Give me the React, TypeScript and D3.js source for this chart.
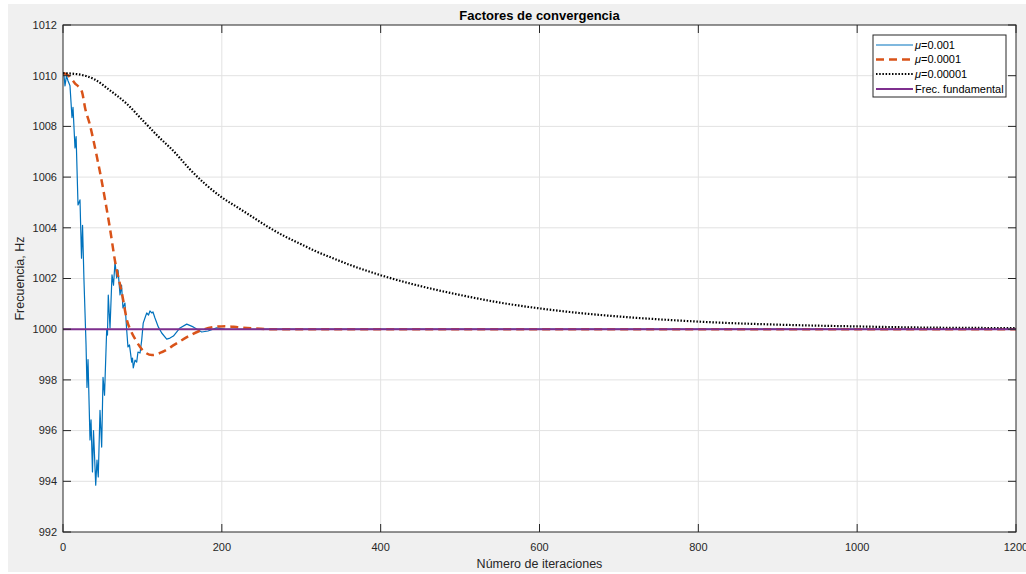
import React from "react";
import * as d3 from "d3";

const xTicks = [0, 200, 400, 600, 800, 1000, 1200];
const yTicks = [992, 994, 996, 998, 1000, 1002, 1004, 1006, 1008, 1010, 1012];

const blueIter = [0, 1.3, 2.5, 4.4, 6.3, 8.8, 11.3, 12.6, 15.1, 16.5, 18.9, 21.4, 23.3, 24.6, 26.4, 29, 30.2, 31.5, 34, 35.3, 37.1, 38.4, 41.2, 42.8, 44.4, 46.6, 48.7, 50.4, 52.3, 55, 56, 57, 59.2, 61.7, 63.6, 65.5, 67.6, 69.3, 71.8, 73.7, 75.5, 78, 80.2, 81.8, 83.7, 86.5, 87.5, 88.5, 90.7, 92.8, 94.4, 97, 99.1, 101, 103.2, 105.4, 107.7, 109.5, 111.7, 113.3, 115.8, 120, 124.3, 130.6, 134.7, 139, 147.3, 155.8, 164, 174.6, 182.6, 193.5, 204, 220, 250, 300, 400, 600, 800, 1000, 1200];
const blueVal = [1010.1, 1010.0, 1009.6, 1010.0, 1009.8, 1009.6, 1008.35, 1008.75, 1007.15, 1007.6, 1004.9, 1005.1, 1002.8, 1004.1, 1001.94, 999.4, 997.7, 998.8, 995.63, 996.42, 994.37, 996.0, 993.85, 994.84, 994.17, 996.8, 995.35, 998.1, 997.4, 999.97, 999.77, 1001.35, 1000.05, 1002.14, 1001.74, 1002.65, 1002.02, 1002.33, 1001.35, 1001.74, 1000.84, 1001.03, 999.97, 999.3, 999.38, 998.7, 998.86, 998.47, 998.78, 998.7, 999.1, 999.06, 999.57, 1000.24, 1000.44, 1000.64, 1000.56, 1000.72, 1000.64, 1000.68, 1000.44, 1000.09, 999.85, 999.61, 999.65, 999.73, 1000.05, 1000.2, 1000.09, 999.89, 999.93, 1000.05, 1000.0, 999.99, 1000.0, 1000.0, 1000.0, 1000.0, 1000.0, 1000.0, 1000.0];

const orangeIter = [0, 5, 10, 15, 20, 24, 28, 34, 38, 43, 49, 53, 59, 66, 74, 81, 86, 91, 101, 112, 125, 141, 158, 175, 191, 205, 220, 240, 260, 300, 400, 600, 800, 1000, 1200];
const orangeVal = [1010.1, 1010.05, 1009.9, 1009.7, 1009.55, 1009.35, 1008.7, 1008.05, 1007.5, 1006.75, 1005.8, 1005.1, 1004.0, 1002.6, 1001.45, 1000.3, 999.9, 999.6, 999.15, 998.98, 999.1, 999.4, 999.72, 999.97, 1000.09, 1000.12, 1000.08, 1000.03, 1000.0, 1000.0, 1000.0, 1000.0, 1000.0, 1000.0, 1000.0];

const blackIter = [0, 20, 40, 60, 80, 100, 120, 140, 160, 180, 200, 220, 240, 260, 280, 300, 320, 340, 360, 380, 400, 450, 500, 550, 600, 650, 700, 750, 800, 850, 900, 950, 1000, 1050, 1100, 1150, 1200];
const blackVal = [1010.1, 1010.05, 1009.85, 1009.4, 1008.9, 1008.25, 1007.6, 1007.0, 1006.3, 1005.7, 1005.2, 1004.8, 1004.4, 1004.0, 1003.65, 1003.35, 1003.05, 1002.8, 1002.55, 1002.33, 1002.13, 1001.7, 1001.35, 1001.05, 1000.82, 1000.64, 1000.5, 1000.39, 1000.3, 1000.23, 1000.18, 1000.14, 1000.11, 1000.08, 1000.06, 1000.05, 1000.04];

const fundIter = [0, 1200];
const fundVal = [1000, 1000];

const legendLabels = ["=0.001", "=0.0001", "=0.00001", "Frec. fundamental"];

const FONT = "'Liberation Sans', Arial, Helvetica, sans-serif";
const AX = "#262626";

export default function App() {
  const L = 63, R = 1016, T = 25, B = 532;
  const x = d3.scaleLinear().domain([0, 1200]).range([L, R]);
  const y = d3.scaleLinear().domain([992, 1012]).range([B, T]);

  const mk = (xs: number[], ys: number[], curve: any) =>
    d3.line<number>().x((_, i) => x(xs[i])).y((_, i) => y(ys[i])).curve(curve)(xs as any) || "";

  const bluePath = mk(blueIter, blueVal, d3.curveLinear);
  const orangePath = mk(orangeIter, orangeVal, d3.curveMonotoneX);
  const blackPath = mk(blackIter, blackVal, d3.curveMonotoneX);
  const fundPath = mk(fundIter, fundVal, d3.curveLinear);

  const legY = [45, 59.5, 74, 89];
  const legStyles = [
    { stroke: "#0072BD", w: 1.2, dash: undefined },
    { stroke: "#D95319", w: 2.5, dash: "8,5" },
    { stroke: "#000000", w: 2.2, dash: "1.5,1.7" },
    { stroke: "#7E2F8E", w: 2, dash: undefined },
  ];

  return (
    <svg width={1026} height={574} style={{ position: "absolute", left: 0, top: 0 }} fontFamily={FONT}>
      <rect x={0} y={0} width={1026} height={574} fill="#ffffff" />
      <rect x={8} y={4} width={1018} height={568} fill="#f0f0f0" />
      <rect x={L} y={T} width={R - L} height={B - T} fill="#ffffff" />
      <defs>
        <clipPath id="plotclip">
          <rect x={L} y={T} width={R - L} height={B - T} />
        </clipPath>
      </defs>
      {xTicks.slice(1, -1).map((t) => (
        <line key={"gx" + t} x1={x(t)} x2={x(t)} y1={T} y2={B} stroke="#e2e2e2" strokeWidth={1} />
      ))}
      {yTicks.slice(1, -1).map((t) => (
        <line key={"gy" + t} x1={L} x2={R} y1={y(t)} y2={y(t)} stroke="#e2e2e2" strokeWidth={1} />
      ))}
      <g clipPath="url(#plotclip)" fill="none">
        <path d={bluePath} stroke="#0072BD" strokeWidth={1.2} strokeLinejoin="round" />
        <path d={orangePath} stroke="#D95319" strokeWidth={2.5} strokeDasharray="8,5" />
        <path d={blackPath} stroke="#000000" strokeWidth={2.2} strokeDasharray="1.5,1.7" />
        <path d={fundPath} stroke="#7E2F8E" strokeWidth={2} />
      </g>
      <rect x={L} y={T} width={R - L} height={B - T} fill="none" stroke={AX} strokeWidth={1} />
      {yTicks.map((t) => (
        <g key={"ty" + t}>
          <line x1={L} x2={L + 8} y1={y(t)} y2={y(t)} stroke={AX} />
          <line x1={R} x2={R - 8} y1={y(t)} y2={y(t)} stroke={AX} />
          <text x={57} y={y(t)} dy="0.35em" textAnchor="end" fontSize={11} fill={AX}>{t}</text>
        </g>
      ))}
      {xTicks.map((t) => (
        <g key={"tx" + t}>
          <line x1={x(t)} x2={x(t)} y1={B} y2={B - 8} stroke={AX} />
          <line x1={x(t)} x2={x(t)} y1={T} y2={T + 8} stroke={AX} />
          <text x={x(t)} y={551} textAnchor="middle" fontSize={11} fill={AX}>{t}</text>
        </g>
      ))}
      <text x={(L + R) / 2} y={19.5} textAnchor="middle" fontSize={13} fontWeight="bold" fill="#000">Factores de convergencia</text>
      <text x={(L + R) / 2} y={567.5} textAnchor="middle" fontSize={12.5} fill={AX}>Número de iteraciones</text>
      <text transform={`translate(24,${(T + B) / 2}) rotate(-90)`} textAnchor="middle" fontSize={12.5} fill={AX}>Frecuencia, Hz</text>
      <rect x={873} y={35} width={133} height={62} fill="#ffffff" stroke={AX} strokeWidth={1} />
      {legendLabels.map((lab, i) => (
        <g key={"lg" + i}>
          <line x1={876} x2={913} y1={legY[i]} y2={legY[i]} stroke={legStyles[i].stroke} strokeWidth={legStyles[i].w} strokeDasharray={legStyles[i].dash} />
          <text x={915} y={legY[i]} dy="0.35em" fontSize={11} fill="#000">
            {i < 3 ? (<><tspan fontStyle="italic">μ</tspan>{lab}</>) : lab}
          </text>
        </g>
      ))}
    </svg>
  );
}
